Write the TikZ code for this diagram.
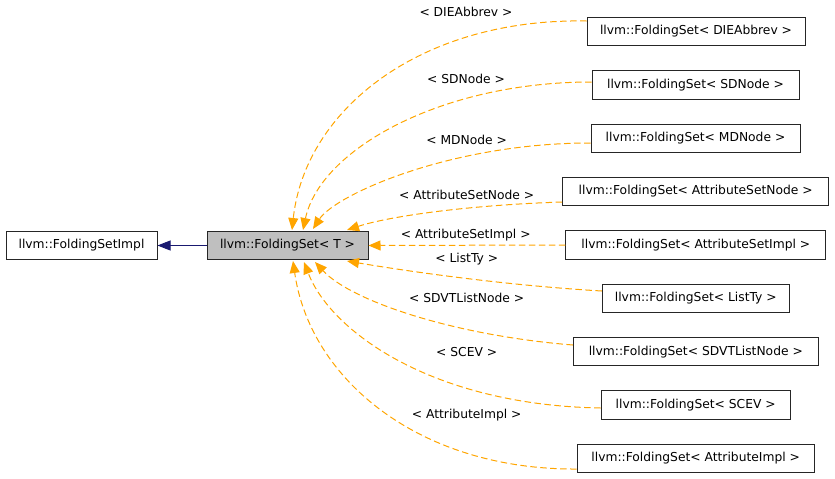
\documentclass[tikz,border=0pt]{standalone}
\usepackage{fontspec}
\setmainfont{DejaVu Sans}
\usetikzlibrary{arrows.meta}
\definecolor{edgeorange}{HTML}{FFA500}
\definecolor{edgeblue}{HTML}{191970}
\definecolor{boxgray}{HTML}{BFBFBF}
\begin{document}
\begin{tikzpicture}[x=1pt,y=-1pt,
  every node/.style={font=\fontsize{12.3}{14}\selectfont, inner sep=0pt},
  cls/.style={draw=black!85, line width=1pt, fill=white, minimum height=28.5pt, anchor=center},
  lbl/.style={anchor=center},
  inh/.style={draw=edgeorange, line width=1pt, dash pattern=on 6.5pt off 3.5pt, -{Triangle[length=12pt,width=10pt]}},
  base/.style={draw=edgeblue, line width=1pt, -{Triangle[length=13pt,width=10pt]}}]
\useasboundingbox (0,0) rectangle (835,479);
\node[cls, minimum width=151pt] (impl) at (81.5,245.5) {llvm::FoldingSetImpl};
\node[cls, fill=boxgray, minimum width=161pt] (fs) at (287.5,245.5) {llvm::FoldingSet< T >};
\node[cls, minimum width=218pt] (die) at (696,31.5) {llvm::FoldingSet< DIEAbbrev >};
\node[cls, minimum width=207pt] (sd) at (695.5,85) {llvm::FoldingSet< SDNode >};
\node[cls, minimum width=209pt] (md) at (695.5,138.5) {llvm::FoldingSet< MDNode >};
\node[cls, minimum width=266pt] (asn) at (695.7,191.5) {llvm::FoldingSet< AttributeSetNode >};
\node[cls, minimum width=260pt] (asi) at (695.8,245) {llvm::FoldingSet< AttributeSetImpl >};
\node[cls, minimum width=187pt] (lt) at (695.8,298.5) {llvm::FoldingSet< ListTy >};
\node[cls, minimum width=245pt] (sdvt) at (695.8,351.7) {llvm::FoldingSet< SDVTListNode >};
\node[cls, minimum width=189pt] (scev) at (695.7,405) {llvm::FoldingSet< SCEV >};
\node[cls, minimum width=237pt] (ai) at (695.7,458.5) {llvm::FoldingSet< AttributeImpl >};
\coordinate (t1) at (292,230);
\coordinate (t2) at (303,230);
\coordinate (t3) at (313,229);
\coordinate (t4) at (347,230);
\coordinate (t6) at (347,261);
\coordinate (t7) at (315,262);
\coordinate (t8) at (304,262);
\coordinate (t9) at (293,261);
\draw[base] (fs.west) -- (impl.east);
\draw[inh] (die.west |- 0,21) .. controls (420,18) and (305,110) .. (t1);
\draw[inh] (sd.west |- 0,82) .. controls (440,82) and (320,150) .. (t2);
\draw[inh] (md.west |- 0,143) .. controls (450,143) and (335,195) .. (t3);
\draw[inh] (asn.west |- 0,202) .. controls (470,205) and (390,216) .. (t4);
\draw[inh] (asi.west) -- (fs.east);
\draw[inh] (lt.west |- 0,291) .. controls (500,285) and (400,270) .. (t6);
\draw[inh] (sdvt.west |- 0,345) .. controls (450,335) and (350,300) .. (t7);
\draw[inh] (scev.west |- 0,408) .. controls (430,405) and (330,330) .. (t8);
\draw[inh] (ai.west |- 0,469) .. controls (420,470) and (310,380) .. (t9);
\node[lbl] (l1) at (466,12) {< DIEAbbrev >};
\node[lbl] (l2) at (466,78.7) {< SDNode >};
\node[lbl] (l3) at (466.7,140) {< MDNode >};
\node[lbl] (l4) at (466.7,195) {< AttributeSetNode >};
\node[lbl] (l5) at (465.7,235) {< AttributeSetImpl >};
\node[lbl] (l6) at (466.7,259) {< ListTy >};
\node[lbl] (l7) at (466.7,298.3) {< SDVTListNode >};
\node[lbl] (l8) at (466.7,352.3) {< SCEV >};
\node[lbl] (l9) at (466.7,415) {< AttributeImpl >};
\end{tikzpicture}
\end{document}
